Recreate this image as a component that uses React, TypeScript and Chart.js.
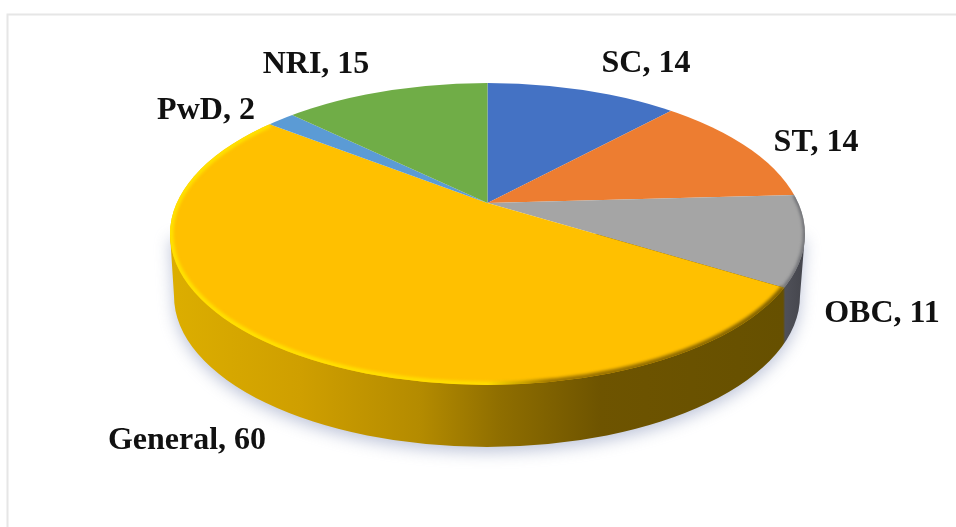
import React, { useEffect, useRef } from "react";
import { Chart, registerables } from "chart.js";

Chart.register(...registerables);

const categories = ["SC", "ST", "OBC", "General", "PwD", "NRI"];
const values = [14, 14, 11, 60, 2, 15];
const sliceColors = ["#4472C4", "#ED7D31", "#A5A5A5", "#FFC000", "#5B9BD5", "#70AD47"];
// centre positions of the data labels, in canvas pixels (same order as categories)
const labelX = [646, 816, 882, 187, 206, 316];
const labelY = [64, 143, 314, 441, 111, 65];

const W = 956;
const H = 527;
// Top face ellipse and the pie hub, which sits above the ellipse's centre (perspective)
const TOP = { x: 487.5, y: 234, rx: 317.5, ry: 151 };
const BOTTOM = { x: 487, y: 296, rx: 313, ry: 151 };
const HUB_Y = 203;
const TILT = TOP.ry / TOP.rx;
const ZOOM = 1.6;

// point on the top ellipse where a slice boundary (chart.js angle) meets the rim
function rimPoint(angle: number) {
  const c = (TOP.y - HUB_Y) / TILT;
  const ux = Math.cos(angle);
  const uy = Math.sin(angle);
  const b = uy * c;
  const t = b + Math.sqrt(b * b - c * c + TOP.rx * TOP.rx);
  return { x: TOP.x + t * ux, y: HUB_Y + t * uy * TILT };
}

const pie3d = {
  id: "pie3d",
  beforeDraw(chart: any) {
    const ctx = chart.ctx;
    ctx.save();
    ctx.strokeStyle = "#e6e6e6";
    ctx.lineWidth = 2;
    ctx.beginPath();
    ctx.moveTo(7.5, H);
    ctx.lineTo(7.5, 14.5);
    ctx.lineTo(W, 14.5);
    ctx.stroke();
    ctx.restore();
  },
  beforeDatasetsDraw(chart: any) {
    const ctx = chart.ctx;
    const arcs = chart.getDatasetMeta(0).data;
    const obcEnd = rimPoint(arcs[2].endAngle);

    // extruded wall
    ctx.save();
    const g = ctx.createLinearGradient(TOP.x - TOP.rx, 0, TOP.x + TOP.rx, 0);
    const stop = (x: number) => (x - (TOP.x - TOP.rx)) / (2 * TOP.rx);
    g.addColorStop(0, "#dcae00");
    g.addColorStop(stop(300), "#cf9f00");
    g.addColorStop(stop(420), "#b48b00");
    g.addColorStop(stop(500), "#8f6e00");
    g.addColorStop(stop(600), "#6e5400");
    g.addColorStop(stop(obcEnd.x - 1), "#665000");
    g.addColorStop(stop(obcEnd.x + 1), "#4f5058");
    g.addColorStop(1, "#44454c");
    ctx.fillStyle = g;
    ctx.shadowColor = "rgba(110,125,170,0.45)";
    ctx.shadowBlur = 16;
    ctx.shadowOffsetY = 5;
    ctx.beginPath();
    ctx.moveTo(TOP.x - TOP.rx, TOP.y);
    ctx.lineTo(BOTTOM.x - BOTTOM.rx, BOTTOM.y);
    ctx.ellipse(BOTTOM.x, BOTTOM.y, BOTTOM.rx, BOTTOM.ry, 0, Math.PI, 0, true);
    ctx.lineTo(TOP.x + TOP.rx, TOP.y);
    ctx.closePath();
    ctx.fill();
    ctx.restore();

    // top face: the library's arcs, tilted about the hub and clipped to the rim
    ctx.save();
    ctx.beginPath();
    ctx.ellipse(TOP.x, TOP.y, TOP.rx, TOP.ry, 0, 0, Math.PI * 2);
    ctx.clip();
    ctx.translate(TOP.x, HUB_Y);
    ctx.scale(ZOOM, ZOOM * TILT);
    ctx.translate(-arcs[0].x, -arcs[0].y);
  },
  afterDatasetsDraw(chart: any) {
    const ctx = chart.ctx;
    const arcs = chart.getDatasetMeta(0).data;
    ctx.restore();

    const generalStart = arcs[3].startAngle;
    const generalEnd = arcs[3].endAngle;
    const obcStart = arcs[2].startAngle;
    const ang = (a: number) => {
      const p = rimPoint(a);
      return Math.atan2((p.y - TOP.y) / TOP.ry, (p.x - TOP.x) / TOP.rx);
    };

    // bright rim of the big slice, fading into the shaded side
    ctx.save();
    ctx.beginPath();
    ctx.ellipse(TOP.x, TOP.y, TOP.rx, TOP.ry, 0, 0, Math.PI * 2);
    ctx.clip();
    ctx.filter = "blur(1.5px)";
    const rim = ctx.createLinearGradient(TOP.x - TOP.rx, 0, TOP.x + TOP.rx, 0);
    rim.addColorStop(0, "#ffe100");
    rim.addColorStop(0.5, "#ffdc00");
    rim.addColorStop(0.6, "rgba(150,110,0,0.9)");
    rim.addColorStop(0.95, "rgba(120,90,0,0.9)");
    rim.addColorStop(1, "rgba(120,90,0,0.9)");
    ctx.strokeStyle = rim;
    ctx.lineWidth = 7;
    ctx.beginPath();
    ctx.ellipse(TOP.x, TOP.y, TOP.rx, TOP.ry, 0, ang(generalStart), ang(generalEnd), false);
    ctx.stroke();
    // darker rim of the grey slice
    ctx.strokeStyle = "#6f7075";
    ctx.lineWidth = 4;
    ctx.beginPath();
    ctx.ellipse(TOP.x, TOP.y, TOP.rx, TOP.ry, 0, ang(obcStart), ang(generalStart), false);
    ctx.stroke();
    ctx.restore();

    // data labels
    ctx.save();
    ctx.fillStyle = "#111111";
    ctx.font = 'bold 32px "Liberation Serif"';
    ctx.textAlign = "center";
    ctx.textBaseline = "middle";
    categories.forEach((c, i) => {
      ctx.fillText(`${c}, ${values[i]}`, labelX[i], labelY[i]);
    });
    ctx.restore();
  },
};

export default function App() {
  const ref = useRef<HTMLCanvasElement>(null);
  useEffect(() => {
    document.body.style.margin = "0";
    const chart = new Chart(ref.current!, {
      type: "pie",
      data: {
        labels: categories,
        datasets: [
          {
            data: values,
            backgroundColor: sliceColors,
            borderWidth: 0,
            clip: false,
          } as any,
        ],
      },
      options: {
        animation: false,
        responsive: false,
        devicePixelRatio: 1,
        events: [],
        plugins: { legend: { display: false }, tooltip: { enabled: false }, title: { display: false } },
      },
      plugins: [pie3d],
    });
    return () => chart.destroy();
  }, []);
  return <canvas ref={ref} width={W} height={H} style={{ display: "block", width: W, height: H, background: "#fff" }} />;
}
